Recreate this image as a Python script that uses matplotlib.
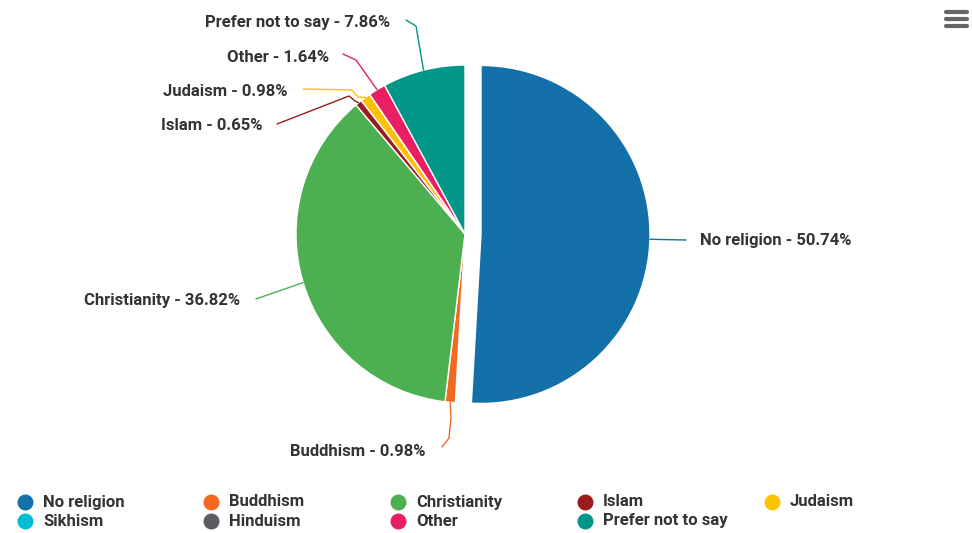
import numpy as np
import matplotlib.pyplot as plt

# data
religions = ["No religion", "Buddhism", "Christianity", "Islam", "Judaism",
             "Sikhism", "Hinduism", "Other", "Prefer not to say"]
shares = [50.74, 0.98, 36.82, 0.65, 0.98, 0.0, 0.0, 1.64, 7.86]
colors = ["#1470a8", "#f26a21", "#4caf50", "#9b1c1c", "#ffc107",
          "#00bcd4", "#5e5b62", "#e91e63", "#009688"]

W, H = 972, 533
TXT = "#333333"


def Y(y):
    # picture pixel row -> data y
    return H - y


fig = plt.figure(figsize=(W / 100, H / 100), dpi=100)
ax = fig.add_axes([0, 0, 1, 1])

cx, cy, r = 465, 234, 169
explode = [16] + [0] * (len(shares) - 1)  # pie uses absolute units here
wedges, _ = ax.pie(shares, colors=colors, explode=explode, startangle=90,
                   counterclock=False, center=(cx, Y(cy)), radius=r,
                   wedgeprops=dict(edgecolor="white", linewidth=1))

# label placement: (text x, text y, ha, elbow points in picture px)
labels = {
    "No religion": (700, 241, "left", [(686, 240)]),
    "Christianity": (240, 301, "right", [(256, 299)]),
    "Buddhism": (425, 451, "right", [(442, 447), (449, 438), (451, 418)]),
    "Islam": (262, 126, "right", [(277, 124), (349, 96), (355, 101)]),
    "Judaism": (287, 92, "right", [(303, 89), (352, 90), (358, 97)]),
    "Other": (329, 57, "right", [(343, 54), (356, 60)]),
    "Prefer not to say": (390, 22, "right", [(406, 20), (416, 26)]),
}

for w, name, val, col in zip(wedges, religions, shares, colors):
    if val == 0:
        continue
    tx, ty, ha, pts = labels[name]
    ang = np.deg2rad((w.theta1 + w.theta2) / 2)
    ex = w.center[0] + w.r * np.cos(ang)
    ey = w.center[1] + w.r * np.sin(ang)
    xs = [p[0] for p in pts] + [ex]
    ys = [Y(p[1]) for p in pts] + [ey]
    ax.plot(xs, ys, color=col, lw=1, solid_capstyle="round")
    ax.text(tx, Y(ty), f"{name} - {val:.2f}%", ha=ha, va="center",
            fontsize=12, fontweight="bold", color=TXT, family="Roboto")

# legend, row-major like the original
col_x = [25, 211, 398, 585, 772]
row_y = [502, 521]
for i, (name, col) in enumerate(zip(religions, colors)):
    lx = col_x[i % 5]
    ly = row_y[i // 5]
    ax.scatter([lx], [Y(ly)], s=110, color=col, zorder=3)
    ax.text(lx + 18, Y(ly), name, ha="left", va="center", fontsize=12,
            fontweight="bold", color=TXT, family="Roboto")

# menu icon
for yy in (12, 19, 26):
    ax.plot([946, 967], [Y(yy), Y(yy)], color="#666666", lw=3,
            solid_capstyle="round")

ax.set_xlim(0, W)
ax.set_ylim(0, H)
ax.set_aspect("equal")
ax.axis("off")
fig.savefig("out.png", dpi=100, facecolor="white")
